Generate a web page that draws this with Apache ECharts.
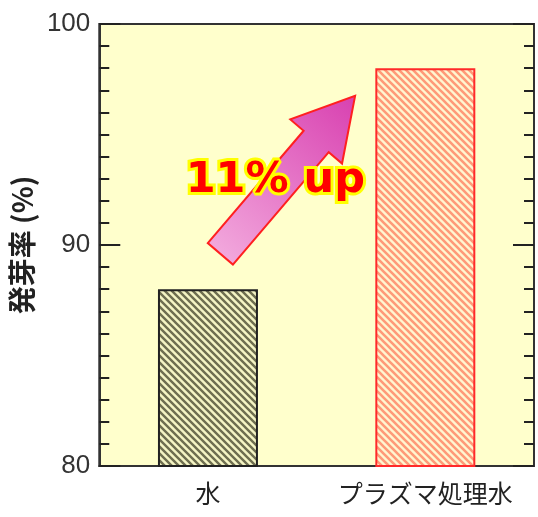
<!DOCTYPE html>
<html>
<head>
<meta charset="utf-8">
<script src="https://cdn.jsdelivr.net/npm/echarts@6/dist/echarts.min.js"></script>
<style>
  html, body { margin: 0; padding: 0; background: #ffffff; }
  #chart { width: 538px; height: 517px; }
</style>
</head>
<body>
<div id="chart"></div>
<script>
// Germination rate by water treatment
const categories = ['水', 'プラズマ処理水'];
const germinationRate = [88, 98];
const yMin = 80;
const yMax = 100;
const yStep = 10;
const gainLabel = '11% up';
const axisName = '発芽率 (%)';

// Diagonal hatch tile ("\" direction)
function hatch(bg, line, size, width) {
  const c = document.createElement('canvas');
  c.width = size; c.height = size;
  const ctx = c.getContext('2d');
  ctx.fillStyle = bg;
  ctx.fillRect(0, 0, size, size);
  ctx.strokeStyle = line;
  ctx.lineWidth = width;
  ctx.beginPath();
  ctx.moveTo(-size, 0); ctx.lineTo(size, 2 * size);
  ctx.moveTo(0, 0); ctx.lineTo(size, size);
  ctx.moveTo(0, -size); ctx.lineTo(2 * size, size);
  ctx.stroke();
  return c;
}

const barStyles = [
  { fill: hatch('#f4f4c4', '#6e6e50', 7, 2.4), border: '#222222' },
  { fill: hatch('#fff6d0', '#ff9a78', 7, 2.6), border: '#ff2a2a' }
];

const chart = echarts.init(document.getElementById('chart'), null, { renderer: 'canvas' });

function sideAxis(position, withLabels) {
  return {
    type: 'value',
    min: yMin, max: yMax, interval: yStep,
    position: position,
    axisLine: { show: true, lineStyle: { color: '#333333', width: 2 } },
    axisTick: { show: true, inside: true, length: 21, lineStyle: { color: '#222222', width: 2 } },
    minorTick: { show: true, splitNumber: 10, length: 10, lineStyle: { color: '#222222', width: 2 } },
    axisLabel: withLabels ? {
      margin: 9,
      fontSize: 26,
      fontFamily: '"Liberation Sans", Arial, sans-serif',
      color: '#333333'
    } : { show: false },
    splitLine: { show: false },
    minorSplitLine: { show: false }
  };
}

const leftAxis = sideAxis('left', true);
leftAxis.name = axisName;
leftAxis.nameLocation = 'middle';
leftAxis.nameGap = 46;
leftAxis.nameTextStyle = {
  fontSize: 28,
  fontWeight: 'bold',
  fontFamily: '"Noto Sans CJK JP", sans-serif',
  color: '#222222'
};

const option = {
  animation: false,
  grid: {
    left: 94, top: 24, right: 4, bottom: 51,
    show: true,
    backgroundColor: '#ffffcc',
    borderColor: '#333333',
    borderWidth: 2
  },
  xAxis: {
    type: 'category',
    data: categories,
    axisLine: { show: true, lineStyle: { color: '#333333', width: 2 } },
    axisTick: { show: false },
    axisLabel: {
      interval: 0,
      margin: 15,
      fontSize: 25,
      fontFamily: '"Noto Sans CJK JP", sans-serif',
      color: '#222222'
    },
    splitLine: { show: false }
  },
  yAxis: [leftAxis, sideAxis('right', false)],
  series: [{
    type: 'bar',
    barWidth: '46%',
    data: germinationRate.map((v, i) => ({
      value: v,
      itemStyle: {
        color: { image: barStyles[i].fill, repeat: 'repeat' },
        borderColor: barStyles[i].border,
        borderWidth: 2
      }
    }))
  }]
};

chart.setOption(option);

// Annotation: upward arrow with the gain label, anchored in data space
// (t = fraction between the two category centres, v = axis value)
const arrowTail = { t: 0.057, v: 89.6 };
const arrowTip = { t: 0.677, v: 96.75 };
const labelAt = { t: 0.31, v: 92.9 };

function toPx(p) {
  const x0 = chart.convertToPixel({ xAxisIndex: 0 }, categories[0]);
  const x1 = chart.convertToPixel({ xAxisIndex: 0 }, categories[1]);
  const y = chart.convertToPixel({ yAxisIndex: 0 }, p.v);
  return [x0 + (x1 - x0) * p.t, y];
}

function arrowPoints(tail, tip, shaftHalf, headHalf, headLen) {
  const dx = tip[0] - tail[0], dy = tip[1] - tail[1];
  const len = Math.hypot(dx, dy);
  const ux = dx / len, uy = dy / len;
  const nx = -uy, ny = ux;
  const bx = tip[0] - ux * headLen, by = tip[1] - uy * headLen;
  return [
    [tail[0] + nx * shaftHalf, tail[1] + ny * shaftHalf],
    [bx + nx * shaftHalf, by + ny * shaftHalf],
    [bx + nx * headHalf, by + ny * headHalf],
    tip,
    [bx - nx * headHalf, by - ny * headHalf],
    [bx - nx * shaftHalf, by - ny * shaftHalf],
    [tail[0] - nx * shaftHalf, tail[1] - ny * shaftHalf]
  ];
}

const tailPx = toPx(arrowTail);
const tipPx = toPx(arrowTip);
const labelPx = toPx(labelAt);

chart.setOption({
  graphic: [
    {
      type: 'polygon',
      z: 100,
      shape: { points: arrowPoints(tailPx, tipPx, 16.5, 34, 60) },
      style: {
        fill: new echarts.graphic.LinearGradient(0, 1, 1, 0, [
          { offset: 0, color: '#f4b0e0' },
          { offset: 1, color: '#d840b0' }
        ]),
        stroke: '#ff2020',
        lineWidth: 2
      }
    },
    {
      type: 'text',
      z: 101,
      x: labelPx[0],
      y: labelPx[1],
      style: {
        text: gainLabel,
        font: 'bold 43px "DejaVu Sans", sans-serif',
        fill: '#ff0000',
        stroke: '#ffff00',
        lineWidth: 6,
        textAlign: 'center',
        textVerticalAlign: 'middle',
        shadowBlur: 6,
        shadowColor: '#ffff40'
      }
    }
  ]
});
</script>
</body>
</html>
